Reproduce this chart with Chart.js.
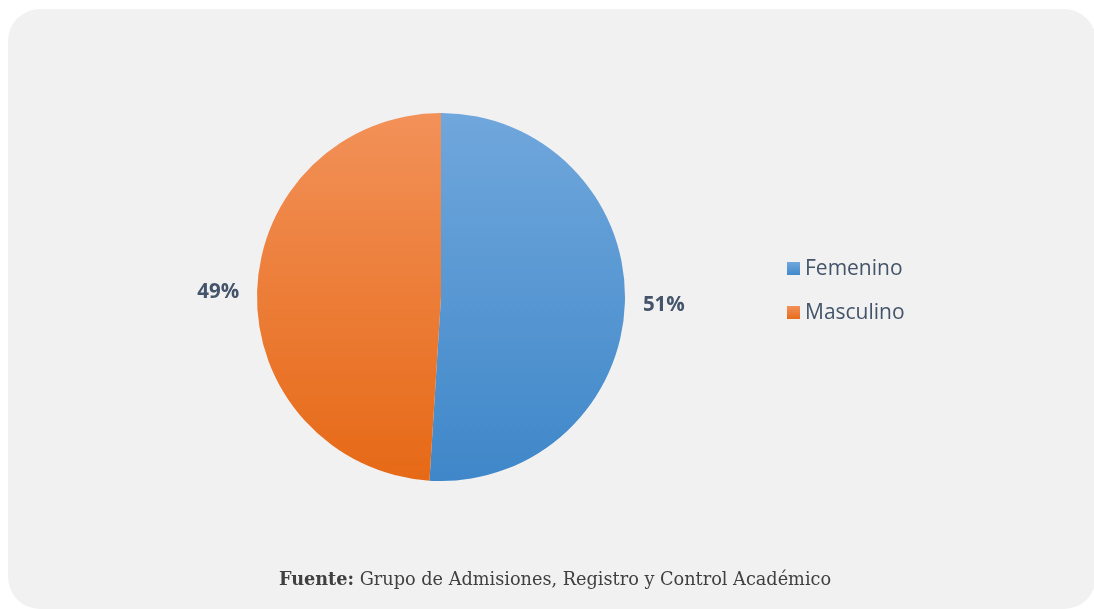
<!DOCTYPE html>
<html>
<head>
<meta charset="utf-8">
<script src="https://cdn.jsdelivr.net/npm/chart.js@4/dist/chart.umd.min.js"></script>
<style>
  html, body { margin: 0; padding: 0; background: #ffffff; }
  #wrap { position: relative; width: 1094px; height: 609px; }
</style>
</head>
<body>
<div id="wrap"><canvas id="chart" width="1094" height="609"></canvas></div>
<script>
const categories = ["Femenino", "Masculino"];
const percentValues = [51, 49];
const percentLabels = ["51%", "49%"];
const sourceBold = "Fuente:";
const sourceText = " Grupo de Admisiones, Registro y Control Académico";

const TEXT_COLOR = "#44546a";
const gradientStops = [
  ["#70a7dc", "#3f87c9"],
  ["#f29159", "#e66916"],
];

function sliceGradient(context) {
  const chart = context.chart;
  const area = chart.chartArea;
  if (!area) {
    return gradientStops[context.dataIndex][1];
  }
  const ctx = chart.ctx;
  const g = ctx.createLinearGradient(0, area.top, 0, area.bottom);
  g.addColorStop(0, gradientStops[context.dataIndex][0]);
  g.addColorStop(1, gradientStops[context.dataIndex][1]);
  return g;
}

const panelPlugin = {
  id: "panel",
  beforeDraw(chart) {
    const ctx = chart.ctx;
    ctx.save();
    ctx.fillStyle = "#f1f1f1";
    ctx.beginPath();
    ctx.roundRect(8, 9, 1088, 600, 32);
    ctx.fill();
    ctx.restore();
  },
};

const labelsPlugin = {
  id: "outsideLabels",
  afterDatasetsDraw(chart) {
    const ctx = chart.ctx;
    const meta = chart.getDatasetMeta(0);
    ctx.save();
    ctx.font = "bold 20.5px 'Open Sans', sans-serif";
    ctx.fillStyle = TEXT_COLOR;
    ctx.textBaseline = "middle";
    meta.data.forEach((arc, i) => {
      const mid = (arc.startAngle + arc.endAngle) / 2;
      const r = arc.outerRadius + 18;
      const x = arc.x + Math.cos(mid) * r;
      const y = arc.y + Math.sin(mid) * r + 2;
      ctx.textAlign = Math.cos(mid) >= 0 ? "left" : "right";
      ctx.fillText(percentLabels[i], x, y);
    });
    ctx.restore();
  },
};

const legendPlugin = {
  id: "sideLegend",
  afterDraw(chart) {
    const ctx = chart.ctx;
    ctx.save();
    ctx.font = "21px 'Open Sans', sans-serif";
    ctx.textBaseline = "middle";
    ctx.textAlign = "left";
    categories.forEach((name, i) => {
      const y = 269 + i * 44;
      const g = ctx.createLinearGradient(0, y - 7, 0, y + 7);
      g.addColorStop(0, gradientStops[i][0]);
      g.addColorStop(1, gradientStops[i][1]);
      ctx.fillStyle = g;
      ctx.fillRect(787, y - 7, 13, 13);
      ctx.fillStyle = TEXT_COLOR;
      ctx.fillText(name, 805, y);
    });
    ctx.restore();
  },
};

const sourcePlugin = {
  id: "sourceNote",
  afterDraw(chart) {
    const ctx = chart.ctx;
    const size = 17.7;
    ctx.save();
    ctx.textBaseline = "middle";
    ctx.textAlign = "left";
    ctx.fillStyle = "#404040";
    ctx.font = `bold ${size}px 'DejaVu Serif', serif`;
    const bw = ctx.measureText(sourceBold).width;
    ctx.font = `${size}px 'DejaVu Serif', serif`;
    const tw = ctx.measureText(sourceText).width;
    const x0 = 555 - (bw + tw) / 2;
    ctx.font = `bold ${size}px 'DejaVu Serif', serif`;
    ctx.fillText(sourceBold, x0, 580);
    ctx.font = `${size}px 'DejaVu Serif', serif`;
    ctx.fillText(sourceText, x0 + bw, 580);
    ctx.restore();
  },
};

new Chart(document.getElementById("chart"), {
  type: "pie",
  data: {
    labels: categories,
    datasets: [
      {
        data: percentValues,
        backgroundColor: sliceGradient,
        borderWidth: 0,
      },
    ],
  },
  options: {
    responsive: false,
    animation: false,
    layout: { padding: { left: 257, right: 469, top: 113, bottom: 128 } },
    plugins: {
      legend: { display: false },
      tooltip: { enabled: false },
    },
  },
  plugins: [panelPlugin, labelsPlugin, legendPlugin, sourcePlugin],
});
</script>
</body>
</html>
